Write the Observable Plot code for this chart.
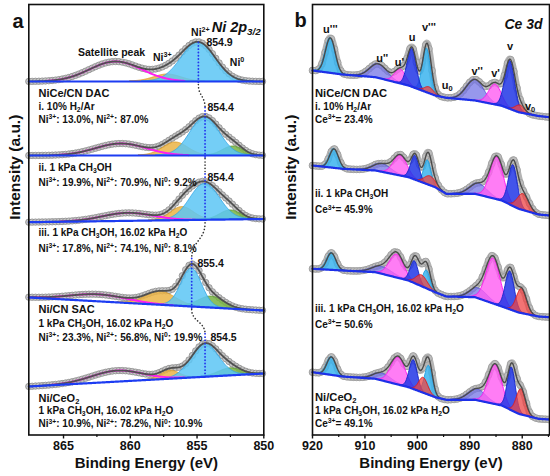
<!DOCTYPE html>
<html><head><meta charset="utf-8">
<script src="https://cdn.jsdelivr.net/npm/d3@7"></script>
<script src="https://cdn.jsdelivr.net/npm/@observablehq/plot@0.6"></script>
<style>
html,body{margin:0;padding:0;background:#fff;}
#wrap{position:relative;width:550px;height:476px;overflow:hidden;font-family:"Liberation Sans",Arial,sans-serif;}
</style></head><body>
<div id="wrap"><div id="pa" style="position:absolute;left:0;top:0"></div><div id="pb" style="position:absolute;left:275px;top:0"></div></div>
<script>
// ---------------- Panel a : Ni 2p3/2 ----------------
const niDomain = [867.6, 850];
const niTicks = [865, 860, 855, 850];
const niMinorTicks = [862.5, 857.5, 852.5];
// linear background of each spectrum (a.u.), at left and right ends
const niBaseLeft  = [353.5, 279.5, 212.8, 137.5, 48.5];
const niBaseRight = [353.5, 279.5, 216.0, 124.5, 61.5];
// fitted components: [centre eV, height a.u., FWHM eV]
const niSat = [[861.1,20,4.6],[860.7,12,4.5],[860.2,8,4.5],[862.4,7,5.0],[861.0,11,4.5]];
const ni3   = [[857.2,7,2.4],[856.6,13,2.2],[856.1,13,2.0],[857.7,13,2.6],[857.0,8,1.6]];
const ni2   = [[854.9,39,3.0],[854.4,38,2.6],[854.4,36,2.6],[855.4,38,1.8],[854.4,33,2.4]];
const ni0   = [null,[852.3,9,1.8],[852.5,9,1.8],[853.9,11,2.2],[852.5,7,2.0]];
const niLines = ["NiCe/CN DAC","i. 10% H_{2}/Ar","Ni^{3+}: 13.0%, Ni^{2+}: 87.0%",
  "ii. 1 kPa CH_{3}OH","Ni^{3+}: 19.9%, Ni^{2+}: 70.9%, Ni^{0}: 9.2%",
  "iii. 1 kPa CH_{3}OH, 16.02 kPa H_{2}O","Ni^{3+}: 17.8%, Ni^{2+}: 74.1%, Ni^{0}: 8.1%",
  "Ni/CN SAC","1 kPa CH_{3}OH, 16.02 kPa H_{2}O","Ni^{3+}: 23.3%, Ni^{2+}: 56.8%, Ni^{0}: 19.9%",
  "Ni/CeO_{2}","1 kPa CH_{3}OH, 16.02 kPa H_{2}O","Ni^{3+}: 10.9%, Ni^{2+}: 78.2%, Ni^{0}: 10.9%"];
const niLineV = [341.5,328.5,315.5,267.5,252.5,202.5,186.5,125.5,111,97.5,37,24,11];
const niLineName = [0,7,10];
const niAnnoText = ["Satellite peak","Ni^{3+}","Ni^{2+}","Ni^{0}"];
const niAnnoE = [861.4,857.6,854.75,852.0];
const niAnnoV = [382.8,377.5,402.5,372.8];
const niValText = ["854.9","854.4","854.4","855.4","854.5"];
const niValE = [854.3,854.22,854.22,854.97,854.0];
const niValV = [392.5,327.5,257.5,171.5,97.5];

// ---------------- Panel b : Ce 3d ----------------
const ceDomain = [920, 874.8];
const ceTicks = [920, 910, 900, 890, 880];
const ceMinorTicks = [915, 905, 895, 885, 875];
const ceBaseE = [920, 914.3, 908, 901.7, 896.6, 894.5, 889, 883.9, 880.7, 876.9, 874.8];
const ceBase = [
  [364.5,360.5,357.8,349.5,339.5,337.2,334.5,329.2,322.8,319.0,317.8],
  [269.5,266.2,264.5,257.8,247.8,241.2,241.2,234.5,226.2,220.5,219.5],
  [166.2,164.5,162.8,154.5,142.8,138.5,137.8,128.5,122.5,118.5,117.8],
  [62.8,58.5,56.2,47.8,37.8,35.2,35.2,29.5,21.2,16.2,15.5]];
const ceU3 = [[916.6,35,2.2],[915.9,19,2.0],[916.4,17,2.0],[916.4,18,2.0]];
const ceV3 = [[898.2,44,1.8],[898.0,24,1.6],[898.2,18,1.6],[897.8,29,1.7]];
const ceU  = [[901.0,38,2.0],[900.4,24,1.8],[900.5,22,1.8],[900.7,29,1.8]];
const ceV  = [[882.3,48,2.2],[881.7,41,2.0],[882.3,38,2.0],[882.0,43,1.8]];
const ceU2 = [[907.4,14,4.0],[906.7,8,4.0],[906.7,7,4.5],[906.7,7,4.0]];
const ceV2 = [[889.0,21,4.0],[888.3,11,4.0],[888.3,10,4.0],[888.6,11,4.0]];
const ceU1 = [[903.2,14,2.5],[903.2,20,3.0],[903.9,23,3.2],[903.6,27,3.2]];
const ceV1 = [[885.1,20,2.8],[884.8,42,3.0],[885.5,45,3.2],[885.1,39,3.0]];
const ceU0 = [[897.7,6,2.0],[897.5,9,2.5],[899.1,11,2.5],[898.8,15,2.0]];
const ceV0 = [[880.4,7,2.0],[879.8,16,2.5],[880.1,24,2.2],[880.2,25,2.0]];
const ceLines = ["NiCe/CN DAC","i. 10% H_{2}/Ar","Ce^{3+}= 23.4%","ii. 1 kPa CH_{3}OH","Ce^{3+}= 45.9%",
  "iii. 1 kPa CH_{3}OH, 16.02 kPa H_{2}O","Ce^{3+}= 50.6%","Ni/CeO_{2}","1 kPa CH_{3}OH, 16.02 kPa H_{2}O","Ce^{3+}= 49.1%"];
const ceLineV = [341.5,328.5,315.5,241,225,126,110.5,37.5,24.5,11.5];
const ceLineName = [0,7];
const ceAnnoText = ["u'''","u''","u'","u","v'''","u_{0}","v''","v'","v","v_{0}"];
const ceAnnoE = [916.6,906.7,903.4,901.0,897.8,894.3,888.6,885.1,882.3,878.5];
const ceAnnoV = [405.5,376.5,372.5,397.5,407.5,349.5,363.5,361.5,388.5,328.5];

// ---------------- helpers ----------------
const FONT = '"Liberation Sans", Arial, sans-serif';
const gauss = (E,c,h,w) => h*Math.exp(-4*Math.LN2*((E-c)/w)**2);
function compRows(list, baseFn, grid, minFrac=0){
  const rows=[];
  list.forEach((p,s)=>{ if(!p) return; const [c,h,w]=p;
    grid.forEach(E=>{ const g=gauss(E,c,h,w); if(g>Math.max(0.15,minFrac*h)) rows.push({s,E,y1:baseFn(s,E),y2:baseFn(s,E)+g}); });
  });
  return rows;
}
function envRows(lists, baseFn, grid, n){
  const rows=[];
  for(let s=0;s<n;s++) grid.forEach((E,k)=>{
    let y=baseFn(s,E);
    lists.forEach(l=>{ const p=l[s]; if(p) y+=gauss(E,p[0],p[1],p[2]); });
    rows.push({s,E,k,y,b:baseFn(s,E)});
  });
  return rows;
}
const common = (extra) => Object.assign({fontFamily:FONT, fontWeight:"bold", fill:"#111"}, extra);

// ---------- build panel a ----------
const niGrid = d3.range(0,353).map(i=>+(867.6-i*0.05).toFixed(3));
const niBase = (s,E)=> niBaseLeft[s] + (niBaseRight[s]-niBaseLeft[s])*(niDomain[0]-E)/(niDomain[0]-niDomain[1]);
const niEnv = envRows([niSat,ni3,ni2,ni0], niBase, niGrid, 5);
const niGuide=[], niConn=[];
ni2.forEach((p,i)=>{
  const c=p[0], b=niBase(i,c), top=b+p[1]+(i===0?0:10), bot=b-3;
  niGuide.push({g:i,E:c,y:top},{g:i,E:c,y:bot});
  if(i<4){ const q=ni2[i+1], b2=niBase(i+1,q[0]);
    niConn.push({g:i,E:c,y:bot},{g:i,E:q[0],y:b2+q[1]+10}); }
});
const idx = a => d3.range(a.length);
const pa = Plot.plot({
  width:275, height:476, marginLeft:28.3, marginRight:11.7, marginTop:4, marginBottom:41.5,
  x:{domain:niDomain}, y:{domain:[0,430.5], axis:null},
  style:{fontFamily:FONT, fontWeight:"bold", background:"white", color:"#111", overflow:"visible"},
  marks:[
    Plot.dot(niEnv.filter(d=>d.k%5===0), {x:"E", y:"y", r:3.2, fill:"#c6c6c6", stroke:"#8c8c8c", strokeWidth:0.8}),
    Plot.areaY(compRows(ni3,niBase,niGrid), {x:"E", y1:"y1", y2:"y2", z:"s", fill:"#ebb445", fillOpacity:0.85, stroke:"#dc9a22", strokeWidth:0.8}),
    Plot.areaY(compRows(ni0,niBase,niGrid), {x:"E", y1:"y1", y2:"y2", z:"s", fill:"#78b444", fillOpacity:0.85, stroke:"#5a9a2a", strokeWidth:0.8}),
    Plot.areaY(compRows(ni2,niBase,niGrid), {x:"E", y1:"y1", y2:"y2", z:"s", fill:"#5cc6f5", fillOpacity:0.85, stroke:"#2ea5e6", strokeWidth:0.8}),
    Plot.line(compRows(niSat,niBase,niGrid,0.03), {x:"E", y:"y2", z:"s", stroke:"#ff1ef0", strokeWidth:2}),
    Plot.line(niEnv, {x:"E", y:"y", z:"s", stroke:"#505050", strokeWidth:1.8}),
    Plot.line(niEnv, {x:"E", y:"b", z:"s", stroke:"#1d3cf2", strokeWidth:2.2}),
    Plot.line(niGuide, {x:"E", y:"y", z:"g", stroke:"#2233ee", strokeWidth:1.8, strokeDasharray:"0.1 3.2", strokeLinecap:"round"}),
    Plot.line(niConn, {x:"E", y:"y", z:"g", curve:"bump-y", stroke:"#333", strokeWidth:1.6, strokeDasharray:"0.1 3.2", strokeLinecap:"round"}),
    Plot.text(idx(niLines).filter(i=>!niLineName.includes(i)), common({y:i=>niLineV[i], text:i=>niLines[i], frameAnchor:"left", dx:9.7, textAnchor:"start", fontSize:10})),
    Plot.text(niLineName, common({y:i=>niLineV[i], text:i=>niLines[i], frameAnchor:"left", dx:9.7, textAnchor:"start", fontSize:11})),
    Plot.text(idx(niAnnoText), common({x:i=>niAnnoE[i], y:i=>niAnnoV[i], text:i=>niAnnoText[i], fontSize:10.5})),
    Plot.text(idx(niValText), common({x:i=>niValE[i], y:i=>niValV[i], text:i=>niValText[i], textAnchor:"start", fontSize:10.5})),
    Plot.text(["Ni 2p_{3/2}"], common({text:d=>d, frameAnchor:"top-right", dx:-3, dy:17.5, textAnchor:"end", fontSize:14.5, fontStyle:"italic"})),
    Plot.text(["Intensity (a.u.)"], common({text:d=>d, frameAnchor:"left", dx:-13.3, rotate:-90, fontSize:15.5})),
    Plot.text(["Binding Energy (eV)"], common({text:d=>d, frameAnchor:"bottom", dy:32.5, fontSize:15})),
    Plot.text(["a"], common({text:d=>d, frameAnchor:"top-left", dx:-16.3, dy:9, fontSize:20})),
    Plot.frame({stroke:"#111", strokeWidth:1.6}),
    Plot.axisX({ticks:niTicks, tickSize:4, tickPadding:2, tickFormat:d=>String(d), label:null, fontSize:12.5, fontWeight:"bold", strokeWidth:1.4}),
    Plot.axisX({ticks:niMinorTicks, tickSize:2.5, tickFormat:null, text:null, label:null, strokeWidth:1.2})
  ]
});

// ---------- build panel b ----------
const ceGrid = d3.range(0,453).map(i=>+(920-i*0.1).toFixed(3));
const ceBaseFns = ceBase.map(v=>d3.scaleLinear().domain(ceBaseE).range(v));
const ceBaseF = (s,E)=> ceBaseFns[s](E);
const ceAll = [ceU3,ceV3,ceU,ceV,ceU2,ceV2,ceU1,ceV1,ceU0,ceV0];
const ceEnv = envRows(ceAll, ceBaseF, ceGrid, 4);
const area = (lists, fill, stroke, op) => Plot.areaY(lists.flatMap((l,j)=>compRows(l,ceBaseF,ceGrid).map(d=>({...d,s:d.s+"_"+j}))),
  {x:"E", y1:"y1", y2:"y2", z:"s", fill, fillOpacity:op, stroke, strokeWidth:0.9});
const pb = Plot.plot({
  width:275, height:476, marginLeft:37, marginRight:1, marginTop:4, marginBottom:41.5,
  x:{domain:ceDomain}, y:{domain:[0,430.5], axis:null},
  style:{fontFamily:FONT, fontWeight:"bold", background:"white", color:"#111", overflow:"visible"},
  marks:[
    Plot.line(ceEnv, {x:"E", y:"y", z:"s", stroke:"#b4b4b4", strokeWidth:7}),
    Plot.dot(ceEnv.filter(d=>d.k%6===0), {x:"E", y:"y", r:3.4, fill:"#bdbdbd", stroke:"#909090", strokeWidth:0.6}),
    area([ceU2,ceV2], "#7474e6", "#5252d6", 0.75),
    area([ceU1,ceV1], "#ff5cf2", "#ff10ee", 0.8),
    area([ceU3,ceV3], "#3bb4ee", "#1c9de0", 0.85),
    area([ceU,ceV], "#2136e6", "#1424c8", 0.85),
    area([ceU0,ceV0], "#ee4444", "#e01818", 0.75),
    Plot.line(ceEnv, {x:"E", y:"y", z:"s", stroke:"#4a4a4a", strokeWidth:1.4}),
    Plot.line(ceEnv, {x:"E", y:"b", z:"s", stroke:"#1d30e8", strokeWidth:2.2}),
    Plot.text(idx(ceLines).filter(i=>!ceLineName.includes(i)), common({y:i=>ceLineV[i], text:i=>ceLines[i], frameAnchor:"left", dx:2.5, textAnchor:"start", fontSize:10})),
    Plot.text(ceLineName, common({y:i=>ceLineV[i], text:i=>ceLines[i], frameAnchor:"left", dx:2.5, textAnchor:"start", fontSize:11.2})),
    Plot.text(idx(ceAnnoText), common({x:i=>ceAnnoE[i], y:i=>ceAnnoV[i], text:i=>ceAnnoText[i], fontSize:11})),
    Plot.text(["Ce 3d"], common({text:d=>d, frameAnchor:"top-right", dx:-7, dy:15, textAnchor:"end", fontSize:14, fontStyle:"italic"})),
    Plot.text(["Intensity (a.u.)"], common({text:d=>d, frameAnchor:"left", dx:-21, rotate:-90, fontSize:15.5})),
    Plot.text(["Binding Energy (eV)"], common({text:d=>d, frameAnchor:"bottom", dy:32.5, fontSize:15})),
    Plot.text(["b"], common({text:d=>d, frameAnchor:"top-left", dx:-18, dy:8, fontSize:20})),
    Plot.frame({stroke:"#111", strokeWidth:1.6}),
    Plot.axisX({ticks:ceTicks, tickSize:4, tickPadding:2, tickFormat:d=>String(d), label:null, fontSize:12.5, fontWeight:"bold", strokeWidth:1.4}),
    Plot.axisX({ticks:ceMinorTicks, tickSize:2.5, tickFormat:null, text:null, label:null, strokeWidth:1.2})
  ]
});
document.getElementById("pa").appendChild(pa);
document.getElementById("pb").appendChild(pb);

// rich text: ^{..} superscript, _{..} subscript
function richify(svg){
  svg.querySelectorAll("text").forEach(el=>{
    if(el.querySelector("tspan")) return;
    const s = el.textContent;
    if(!/[\^_]\{/.test(s)) return;
    const fs = parseFloat(getComputedStyle(el).fontSize)||10;
    el.textContent = "";
    const parts = s.split(/(\^\{[^}]*\}|_\{[^}]*\})/).filter(p=>p);
    let shift = 0;
    for(const p of parts){
      const ts = document.createElementNS("http://www.w3.org/2000/svg","tspan");
      let target = 0, txt = p, small = false;
      if(p.startsWith("^{")){ target=-0.36*fs; txt=p.slice(2,-1); small=true; }
      else if(p.startsWith("_{")){ target=0.2*fs; txt=p.slice(2,-1); small=true; }
      if(target-shift!==0) ts.setAttribute("dy", (target-shift).toFixed(2));
      shift = target;
      if(small) ts.setAttribute("font-size", (0.68*fs).toFixed(2));
      ts.textContent = txt;
      el.appendChild(ts);
    }
  });
}
richify(pa); richify(pb);
</script></body></html>
